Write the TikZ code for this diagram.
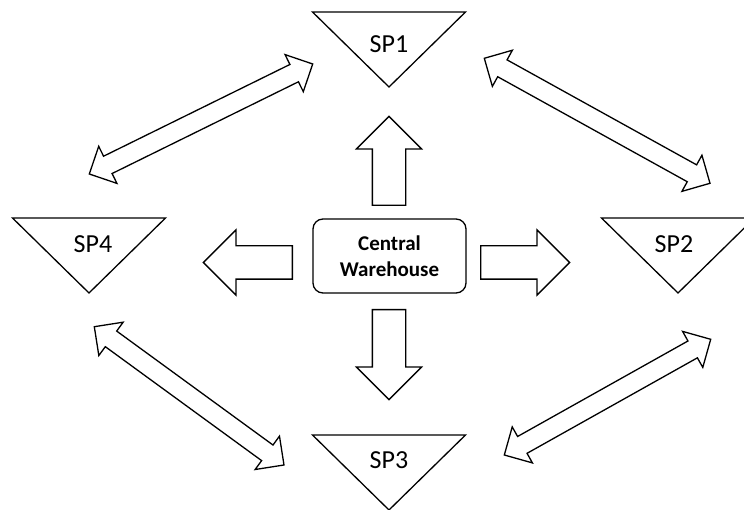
\documentclass[tikz,border=0pt]{standalone}
\usepackage{fontspec}
\setmainfont{Carlito}
\usetikzlibrary{shapes.arrows,calc}
\tikzset{
  % outline shared by all shapes
  outline/.style={draw=black, line width=1.3pt, fill=white},
  % inverted triangle of a store
  store/.pic={
    \draw[outline] (-76.5,0) -- (76.5,0) -- (0,75) -- cycle;},
  storelabel/.style={inner sep=0pt, font=\fontsize{26}{30}\selectfont},
  % the warehouse box
  depot/.style={
    outline,
    rectangle,
    rounded corners=10pt,
    minimum width=153pt,
    minimum height=74pt,
    align=center,
    font=\fontsize{21}{26}\selectfont\bfseries},
  % block arrow leaving the warehouse
  fat/.style={
    single arrow, outline, inner xsep=0pt, inner ysep=16pt,
    single arrow head extend=16pt,
    single arrow tip angle=90, anchor=tail},
  % double arrow between two stores
  twoway/.style={
    double arrow, outline, inner xsep=0pt, inner ysep=9pt,
    double arrow head extend=11pt,
    double arrow tip angle=90}
}

\begin{document}
\begin{tikzpicture}[x=1pt,y=-1pt]
  \useasboundingbox (0,0) rectangle (744,510);

  % stores
  \pic at (389,12) {store};
  \pic at (89,218) {store};
  \pic at (678,218) {store};
  \pic at (389,435) {store};
  \node[storelabel] (sp1) at (389,44) {SP1};
  \node[storelabel] (sp4) at (93,244) {SP4};
  \node[storelabel] (sp2) at (674,244) {SP2};
  \node[storelabel] (sp3) at (389,460) {SP3};

  % warehouse
  \node[depot] (cw) at (389.5,256) {Central\\Warehouse};

  % deliveries
  \node[fat, rotate=90, minimum height=89pt] (tosp1) at (389,206) {};
  \node[fat, rotate=-90, minimum height=90pt] (tosp3) at (389,309) {};
  \node[fat, rotate=180, minimum height=89pt] (tosp4) at (293,262.5) {};
  \node[fat, minimum height=89pt] (tosp2) at (480,262.5) {};

  % transfers between stores
  \coordinate (sp1w) at (312.7,64);
  \coordinate (sp4n) at (89.3,174);
  \coordinate (sp1e) at (484.3,58.3);
  \coordinate (sp2n) at (710,183.3);
  \coordinate (sp4s) at (94.3,326.7);
  \coordinate (sp3w) at (284,465);
  \coordinate (sp2s) at (710.7,339.3);
  \coordinate (sp3e) at (504.3,455);

  \path let \p1=($(sp1w)-(sp4n)$), \n1={atan2(\y1,\x1)}, \n2={veclen(\x1,\y1)} in
    node[twoway, rotate=\n1, minimum height=\n2] (sp14) at ($(sp4n)!0.5!(sp1w)$) {};
  \path let \p1=($(sp2n)-(sp1e)$), \n1={atan2(\y1,\x1)}, \n2={veclen(\x1,\y1)} in
    node[twoway, rotate=\n1, minimum height=\n2] (sp12) at ($(sp1e)!0.5!(sp2n)$) {};
  \path let \p1=($(sp3w)-(sp4s)$), \n1={atan2(\y1,\x1)}, \n2={veclen(\x1,\y1)} in
    node[twoway, rotate=\n1, minimum height=\n2] (sp43) at ($(sp4s)!0.5!(sp3w)$) {};
  \path let \p1=($(sp2s)-(sp3e)$), \n1={atan2(\y1,\x1)}, \n2={veclen(\x1,\y1)} in
    node[twoway, rotate=\n1, minimum height=\n2] (sp23) at ($(sp3e)!0.5!(sp2s)$) {};
\end{tikzpicture}
\end{document}
